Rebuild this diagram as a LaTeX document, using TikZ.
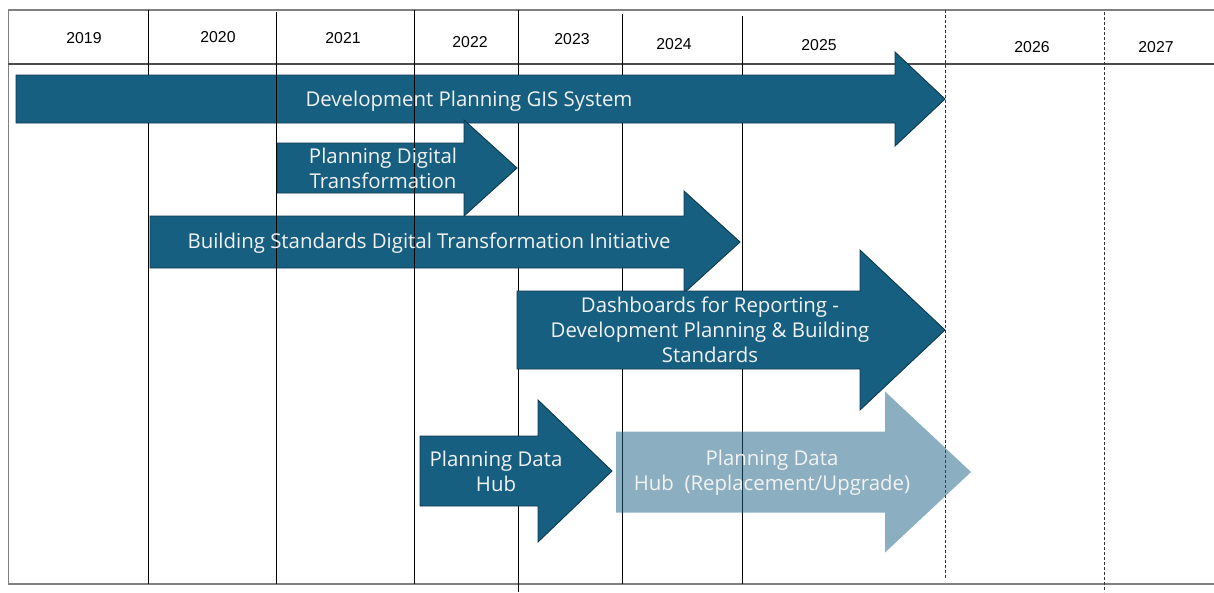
\documentclass[tikz,border=0pt]{standalone}
\usepackage{fontspec}
\setmainfont{Liberation Sans}
\newfontfamily\barfont{Open Sans}
\definecolor{barblue}{HTML}{175F81}
\definecolor{baredge}{HTML}{0E3A4E}
\definecolor{bartextcol}{HTML}{F2F2F2}

% timeline bar: [style] start, head base, tip, middle y, half shaft, half head
\newcommand{\tlbar}[7][bar]{%
  \path[#1] (#2,{#5-#6}) -- (#3,{#5-#6}) -- (#3,{#5-#7}) -- (#4,#5)
    -- (#3,{#5+#7}) -- (#3,{#5+#6}) -- (#2,{#5+#6}) -- cycle;}

\begin{document}
\begin{tikzpicture}[x=1pt,y=-1pt]
\tikzstyle{every node}=[inner sep=0pt]
\tikzstyle{year}=[font=\fontsize{15.8}{18}\selectfont]
\tikzstyle{bar}=[fill=barblue, draw=baredge, line width=0.9pt]
\tikzstyle{ghostbar}=[fill=barblue, fill opacity=0.5]
\tikzstyle{bartext}=[font=\barfont\fontsize{20.4}{25}\selectfont, text=bartextcol, align=center]
\tikzstyle{grid}=[draw=black, line width=0.8pt]
\tikzstyle{future}=[draw=black!80, dashed, dash pattern=on 3pt off 2pt, line width=0.6pt]
\tikzstyle{frame}=[draw=gray, line width=1.2pt]

\useasboundingbox (0,0) rectangle (1214,592);

% frame and header
\draw[frame] (8,10) -- (1214,10);
\draw[frame] (8.5,10) -- (8.5,584);
\draw[frame] (8,584) -- (1214,584);
\draw[frame, draw=black!70] (8,64) -- (1214,64);

% year columns
\draw[grid] (148,10) -- (148,584);
\draw[grid] (518,10) -- (518,592);
\draw[grid] (622,14) -- (622,584);
\draw[grid] (742,16) -- (742,584);
\draw[future] (945,10) -- (945,578);
\draw[future] (1104,12) -- (1104,592);

\node[year] (y2019) at (84,38) {2019};
\node[year] (y2020) at (218,37) {2020};
\node[year] (y2021) at (343,38) {2021};
\node[year] (y2022) at (470,42) {2022};
\node[year] (y2023) at (572,39) {2023};
\node[year] (y2024) at (674,44) {2024};
\node[year] (y2025) at (819,45) {2025};
\node[year] (y2026) at (1032,47) {2026};
\node[year] (y2027) at (1156,47) {2027};

% projects
\tlbar{16}{895}{945}{99}{24}{47}
\tlbar{277}{464}{517}{168}{25}{48}
\tlbar{150}{684}{740}{242}{26}{51}
\tlbar{517}{860}{945}{330}{39}{80}
\tlbar{420}{538}{612}{471}{35}{71}

\draw[grid] (276,12) -- (276,584);
\draw[grid] (414,10) -- (414,584);

\tlbar[ghostbar]{616}{885}{971}{472}{40.5}{80.5}

\node[bartext] (gis) at (469,101) {Development Planning GIS System};
\node[bartext] (pdt) at (383,168) {Planning Digital\\Transformation};
\node[bartext] (bsdt) at (429,243.5) {Building Standards Digital Transformation Initiative};
\node[bartext] (dash) at (710,330) {Dashboards for Reporting -\\Development Planning \& Building\\Standards};
\node[bartext] (pdh) at (496,471) {Planning Data\\Hub};
\node[bartext] (pdhr) at (772,473) {Planning Data\\Hub\ \ (Replacement/Upgrade)};
\end{tikzpicture}
\end{document}
